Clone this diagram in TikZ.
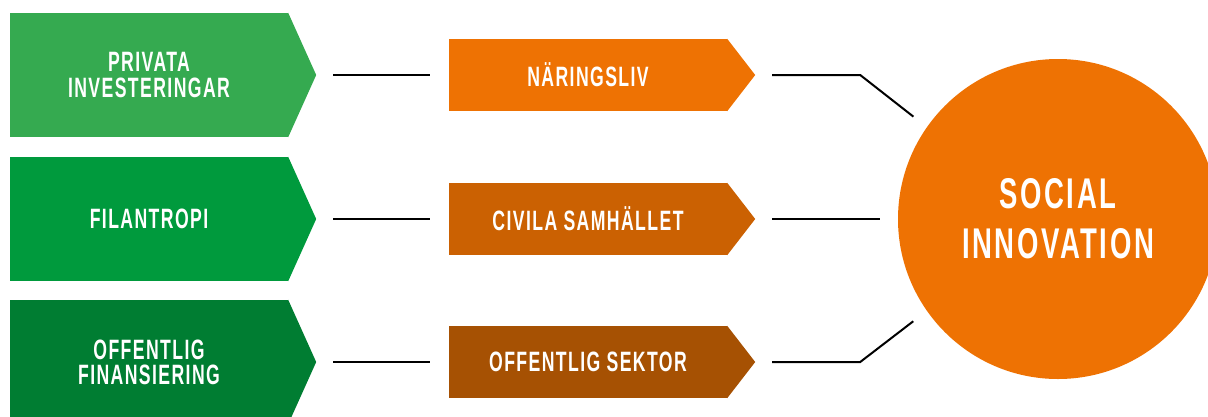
\documentclass[tikz,border=0pt]{standalone}
\usepackage{fontspec}
\newfontfamily\boxfont{Liberation Sans}[FakeStretch=0.63,LetterSpace=5]
\newfontfamily\goalfont{Liberation Sans}[FakeStretch=0.64,LetterSpace=6]
\usetikzlibrary{calc}

\definecolor{green1}{HTML}{35AA50}
\definecolor{green2}{HTML}{009A3D}
\definecolor{green3}{HTML}{007D32}
\definecolor{orange1}{HTML}{EE7203}
\definecolor{orange2}{HTML}{CB6102}
\definecolor{orange3}{HTML}{A65103}

\tikzset{
  fund/.style={rectangle, minimum width=278, minimum height=124, inner sep=0,
    text=white, align=center, font=\boxfont\bfseries\fontsize{28}{25}\selectfont},
  actor/.style={fund, minimum height=72},
  goal/.style={circle, minimum size=320, inner sep=0, fill=orange1,
    text=white, align=center, font=\goalfont\bfseries\fontsize{43}{50}\selectfont},
  link/.style={line width=2pt, black}
}

\begin{document}
\begin{tikzpicture}[x=1pt, y=-1pt]
  \useasboundingbox (0,0) rectangle (1208,416);
  \clip (0,0) rectangle (1208,416);

  \node[fund, fill=green1] (priv) at (149,75) {PRIVATA\\INVESTERINGAR};
  \node[fund, fill=green2] (fil) at (149,219) {FILANTROPI};
  \node[fund, fill=green3] (offfin) at (149,362) {OFFENTLIG\\FINANSIERING};

  \node[actor, fill=orange1] (nar) at (588,75) {NÄRINGSLIV};
  \node[actor, fill=orange2] (civ) at (588,219) {CIVILA SAMHÄLLET};
  \node[actor, fill=orange3] (offsek) at (588,362) {OFFENTLIG SEKTOR};

  \node[goal] (si) at (1058,219) {SOCIAL\\INNOVATION};

  % arrow points
  \foreach \n/\c in {priv/green1, fil/green2, offfin/green3,
                     nar/orange1, civ/orange2, offsek/orange3}
    \fill[\c] (\n.north east) -- ([xshift=28]\n.east) -- (\n.south east) -- cycle;

  \draw[link] ([xshift=45]priv.east) -- ([xshift=-19]nar.west);
  \draw[link] ([xshift=45]fil.east) -- ([xshift=-19]civ.west);
  \draw[link] ([xshift=45]offfin.east) -- ([xshift=-19]offsek.west);

  \draw[link, shorten >=17] ([xshift=45]nar.east) -- ([xshift=133]nar.east) -- (si.145);
  \draw[link, shorten >=18] ([xshift=45]civ.east) -- (si.west);
  \draw[link, shorten >=17] ([xshift=45]offsek.east) -- ([xshift=133]offsek.east) -- (si.215);
\end{tikzpicture}
\end{document}
